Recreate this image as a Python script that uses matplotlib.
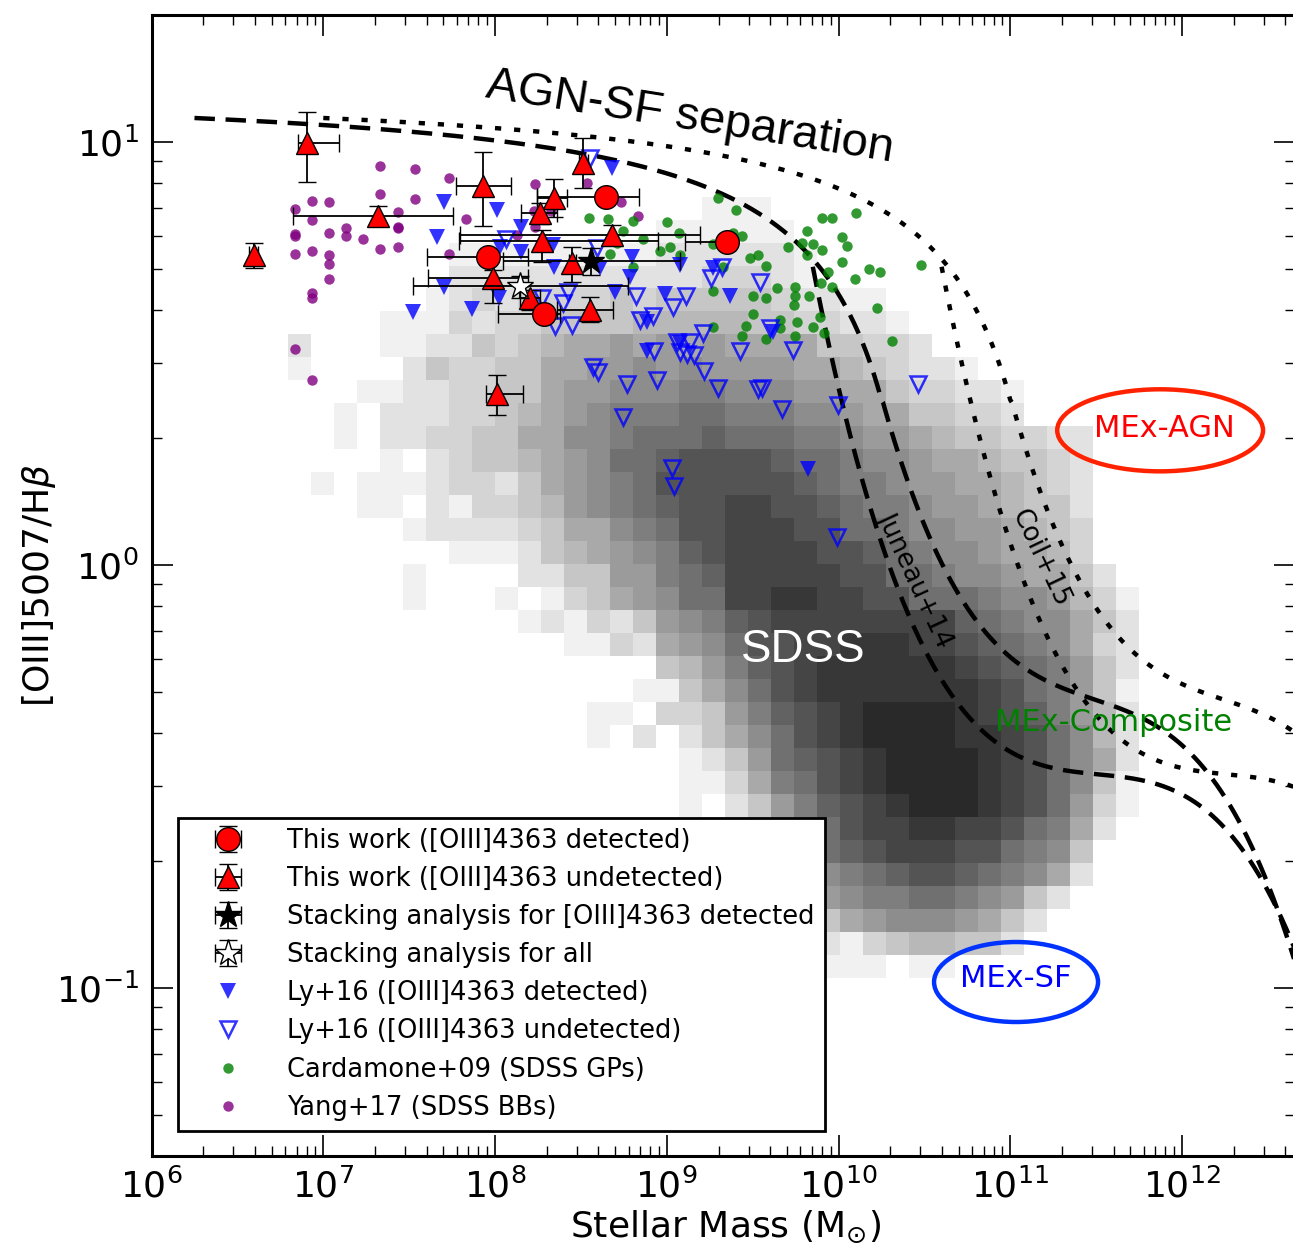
import numpy as np
import matplotlib
matplotlib.use('Agg')
import matplotlib.pyplot as plt
from matplotlib.patches import Ellipse
from matplotlib.colors import LinearSegmentedColormap
from matplotlib.ticker import FixedLocator, NullFormatter

plt.rcParams['font.family'] = ['DejaVu Sans']
plt.rcParams['mathtext.fontset'] = 'dejavusans'
plt.rcParams['axes.unicode_minus'] = False

# ---------------- data (log10 stellar mass, log10 [OIII]5007/Hbeta) ----------------
# This work, [OIII]4363 detected
det_logm = [8.648, 9.352, 7.961, 8.287]
det_logr = [0.870, 0.764, 0.728, 0.593]
det_logm_lo = [8.246, 9.108, 7.606, 8.019]
det_logm_hi = [8.840, 9.400, 8.194, 8.380]
det_logr_lo = [0.862, 0.756, 0.720, 0.585]
det_logr_hi = [0.878, 0.772, 0.736, 0.601]

# This work, [OIII]4363 undetected
und_logm = [6.908, 6.594, 7.321, 7.932, 8.514, 8.345, 8.264, 8.275, 8.683, 8.450, 7.990, 8.206, 8.555, 8.014]
und_logr = [0.998, 0.733, 0.825, 0.896, 0.950, 0.868, 0.832, 0.766, 0.780, 0.714, 0.678, 0.631, 0.603, 0.404]
und_logm_lo = [6.850, 6.570, 6.821, 7.775, 8.490, 8.246, 8.153, 7.792, 7.798, 8.430, 7.612, 8.147, 8.363, 7.950]
und_logm_hi = [7.094, 6.620, 7.758, 8.095, 8.540, 8.421, 8.363, 8.950, 9.195, 8.470, 8.194, 8.264, 8.689, 8.165]
und_logr_lo = [0.905, 0.702, 0.801, 0.801, 0.891, 0.823, 0.806, 0.716, 0.761, 0.669, 0.619, 0.603, 0.574, 0.355]
und_logr_hi = [1.071, 0.761, 0.849, 0.976, 1.009, 0.913, 0.856, 0.792, 0.804, 0.752, 0.697, 0.650, 0.634, 0.449]

# Stacking analyses
sdet_logm = [8.561]; sdet_logr = [0.719]
sdet_logm_lo = [8.048]; sdet_logm_hi = [9.079]
sdet_logr_lo = [0.686]; sdet_logr_hi = [0.749]
sall_logm = [8.147]; sall_logr = [0.660]
sall_logm_lo = [7.525]; sall_logm_hi = [8.776]
sall_logr_lo = [0.631]; sall_logr_hi = [0.683]

# Ly+16 detected / undetected
lyd_logm = [8.683, 7.702, 8.014, 7.664, 7.705, 7.525, 7.868, 8.025, 8.153, 8.031, 8.153, 8.339, 8.345,
            8.613, 8.799, 8.788, 8.700, 8.991, 9.079, 9.271, 9.370, 8.887, 8.887, 9.079, 9.620, 9.823]
lyd_logr = [0.939, 0.858, 0.839, 0.775, 0.657, 0.597, 0.605, 0.631, 0.800, 0.752, 0.740, 0.757, 0.704,
            0.703, 0.728, 0.681, 0.645, 0.641, 0.709, 0.702, 0.636, 0.574, 0.506, 0.525, 0.551, 0.227]
lyu_logm = [8.555, 8.066, 8.596, 8.427, 8.398, 8.351, 8.450, 8.823, 9.114, 9.038, 8.921, 8.846, 9.212,
            9.061, 9.137, 9.079, 9.119, 9.160, 9.428, 9.736, 9.259, 9.323, 9.544, 8.572, 8.601, 8.770,
            8.945, 9.218, 9.300, 9.533, 9.556, 9.672, 9.998, 8.747, 10.464, 9.992, 9.032, 9.044, 9.602,
            8.275, 8.927]
lyu_logr = [0.962, 0.770, 0.749, 0.645, 0.619, 0.565, 0.567, 0.636, 0.636, 0.610, 0.589, 0.579, 0.548,
            0.527, 0.527, 0.504, 0.499, 0.496, 0.506, 0.508, 0.678, 0.704, 0.669, 0.468, 0.456, 0.428,
            0.437, 0.459, 0.418, 0.416, 0.418, 0.369, 0.378, 0.350, 0.428, 0.066, 0.229, 0.187, 0.560,
            0.631, 0.506]

# Cardamone+09 Green Peas
gp_logm = [9.300, 9.405, 8.549, 8.660, 8.805, 8.747, 9.003, 9.073, 8.863, 8.962, 9.020, 9.079, 8.671,
           8.805, 9.439, 9.387, 9.707, 9.818, 9.789, 9.853, 9.905, 9.905, 9.963, 10.103, 10.021, 10.050,
           9.486, 9.533, 9.579, 9.818, 9.940, 10.021, 10.179, 10.243, 10.481, 10.097, 9.899, 9.963,
           9.271, 9.503, 9.579, 9.643, 9.748, 9.748, 9.829, 9.742, 10.225, 9.503, 9.661, 9.759, 9.893,
           9.463, 9.271, 9.853, 9.439, 9.579, 9.748, 10.312, 9.917, 9.329, 9.271, 8.712, 9.661]
gp_logr = [0.868, 0.839, 0.820, 0.818, 0.813, 0.790, 0.811, 0.785, 0.771, 0.742, 0.752, 0.733, 0.735,
           0.704, 0.778, 0.785, 0.752, 0.790, 0.761, 0.759, 0.745, 0.820, 0.820, 0.832, 0.775, 0.754,
           0.726, 0.733, 0.707, 0.733, 0.693, 0.716, 0.700, 0.693, 0.709, 0.676, 0.667, 0.657,
           0.648, 0.636, 0.631, 0.655, 0.657, 0.636, 0.636, 0.615, 0.608, 0.593, 0.579, 0.574, 0.586,
           0.565, 0.563, 0.563, 0.541, 0.534, 0.541, 0.530, 0.548, 0.704, 0.759, 0.761, 0.560]

# Yang+17 Blueberries
bb_logm = [7.333, 7.532, 7.731, 7.333, 7.532, 6.834, 6.933, 7.034, 7.433, 6.933, 7.133, 7.433, 7.433,
           6.834, 6.834, 7.034, 7.133, 7.234, 7.333, 7.433, 6.834, 6.933, 7.034, 7.034, 7.034, 6.933,
           6.933, 6.834, 6.933, 7.831, 7.734, 8.232, 8.228, 8.232, 8.325, 8.533, 8.731, 8.831, 8.128]
bb_logr = [0.944, 0.937, 0.916, 0.876, 0.865, 0.841, 0.861, 0.857, 0.834, 0.815, 0.797, 0.799, 0.796,
           0.778, 0.782, 0.785, 0.777, 0.771, 0.746, 0.752, 0.735, 0.743, 0.732, 0.712, 0.676, 0.642,
           0.632, 0.511, 0.438, 0.818, 0.735, 0.900, 0.838, 0.798, 0.838, 0.904, 0.857, 0.824, 0.780]

# SDSS 2D histogram: darkness level (hex 0-f) per cell, one entry per row (top to bottom),
# given as (first column, levels)
sdss_logm0 = 6.795
sdss_dlogm = 0.1339
sdss_logr_top = 0.8709
sdss_dlogr = 0.0543
sdss_ncol = 38
sdss_rows = [
    (18, "111"),
    (16, "1111 11"),
    (7, "1111 1111 1222 2221"),
    (7, "2222 2222 2223 3321"),
    (6, "1232 3333 4344 4443 2211"),
    (4, "1113 2334 4445 5555 4433 221"),
    (0, "2000 1122 4345 6676 7676 6664 4332"),
    (0, "1000 0243 3446 6778 7877 7766 5432 21"),
    (3, "1122 3344 6778 8899 8887 7664 3322 1"),
    (2, "1022 2334 5678 999a a999 8876 6443 32"),
    (2, "1022 3344 6688 9aaa baaa 9987 7654 4332 2"),
    (4, "1023 4456 78aa bccc cbaa 9887 6654 432"),
    (1, "1011 1233 2467 89ac cccc cba9 9877 6654 32"),
    (3, "1102 1334 5789 abcc ddcc ba99 8776 5442"),
    (5, "1222 2346 689a ccdd dcca a988 7765 43"),
    (7, "1112 4567 89bc dddd ccba 9887 6653"),
    (5, "1000 0224 4779 abdd dddc caa9 8876 642"),
    (5, "1000 1013 4678 aadd eedd ccaa a988 753 1"),
    (10, "1213 2478 9bcd dddd dddb a988 642"),
    (12, "1132 678a ccdd eeed dcba 9863 2"),
    (16, "4579 bcde eeee edcb a974 2"),
    (15, "1146 8acd eeee eeed ca97 41"),
    (13, "1103 3479 bcde ffff edcb 9752"),
    (13, "1020 2468 acde ffff eedc a852"),
    (17, "1247 abcd efff fedc a862"),
    (17, "1136 9acd efff fedc a841"),
    (17, "1024 79bc deff fedc a731"),
    (19, "2468 acdd eedd ca96 2"),
    (20, "246a bcdd dcca 984"),
    (21, "2489 abcc ba98 62"),
    (22, "2789 9aa9 8742"),
    (22, "1467 8887 642"),
    (23, "2134 5544 2"),
    (23, "1110 11"),
]

# MEx demarcation (Juneau+11 form), shifted in mass for Juneau+14 and Coil+15
mex_up_a, mex_up_b, mex_up_c = 0.375, 10.5, 1.14
mex_up_poly = [410.24, -109.333, 9.71731, -0.288244]
mex_lo_poly = [352.066, -93.8249, 8.32651, -0.246416]
juneau14_shift = 0.25
coil15_shift = 1.0

# ---------------- figure ----------------
fig = plt.figure(figsize=(12.93, 12.48), dpi=100)
ax = fig.add_axes([0.1172, 0.0737, 0.8844, 0.9143])
ax.set_xscale('log')
ax.set_yscale('log')

# SDSS histogram
grid = np.zeros((len(sdss_rows), sdss_ncol))
for r, (start, s) in enumerate(sdss_rows):
    s = s.replace(" ", "")
    for k, ch in enumerate(s):
        grid[r, start + k] = int(ch, 16)
xe = 10 ** (sdss_logm0 + sdss_dlogm * np.arange(sdss_ncol + 1))
ye = 10 ** (sdss_logr_top - sdss_dlogr * np.arange(len(sdss_rows) + 1))
cmap = LinearSegmentedColormap.from_list('sdss', ['white', (0.16, 0.16, 0.16)])
ax.pcolormesh(xe, ye, np.ma.masked_equal(grid, 0), cmap=cmap, vmin=0, vmax=15,
              edgecolors='none', antialiased=False, zorder=0)

# MEx curves
def mex_upper(x):
    x = np.asarray(x)
    hyp = mex_up_a / (x - mex_up_b) + mex_up_c
    pol = np.polyval(mex_up_poly[::-1], x)
    return np.where(x <= 10.0, hyp, pol)

def mex_lower(x):
    return np.polyval(mex_lo_poly[::-1], np.asarray(x))

xu = np.linspace(6.0, 12.7, 800)
xl = np.linspace(9.6, 12.7, 500)
for shift, style in [(juneau14_shift, dict(dashes=(4.6, 2.4))), (coil15_shift, dict(dashes=(1.4, 2.9)))]:
    ax.plot(10 ** (xu + shift), 10 ** mex_upper(xu), color='black', lw=3.2, zorder=2, **style)
    ax.plot(10 ** (xl + shift), 10 ** mex_lower(xl), color='black', lw=3.2, zorder=2, **style)

# comparison samples
ax.plot(10 ** np.array(bb_logm), 10 ** np.array(bb_logr), 'o', color='purple', alpha=0.8,
        ms=7.5, mew=0, zorder=3)
ax.plot(10 ** np.array(gp_logm), 10 ** np.array(gp_logr), 'o', color='green', alpha=0.8,
        ms=7.5, mew=0, zorder=3)
ax.plot(10 ** np.array(lyd_logm), 10 ** np.array(lyd_logr), 'v', color='blue', alpha=0.8,
        ms=11.5, mew=0, zorder=3)
ax.plot(10 ** np.array(lyu_logm), 10 ** np.array(lyu_logr), 'v', mfc='none', mec='blue', alpha=0.8,
        ms=11, mew=1.8, zorder=3)

def ebar(logm, logr, mlo, mhi, rlo, rhi, **kw):
    m = 10 ** np.array(logm); r = 10 ** np.array(logr)
    xerr = [m - 10 ** np.array(mlo), 10 ** np.array(mhi) - m]
    yerr = [r - 10 ** np.array(rlo), 10 ** np.array(rhi) - r]
    return ax.errorbar(m, r, xerr=xerr, yerr=yerr, ls='none', ecolor='black', elinewidth=1.3,
                       capsize=6.5, capthick=1.3, **kw)

eb_und = ebar(und_logm, und_logr, und_logm_lo, und_logm_hi, und_logr_lo, und_logr_hi,
              marker='^', ms=16, mfc='red', mec='black', mew=1, zorder=5)
eb_det = ebar(det_logm, det_logr, det_logm_lo, det_logm_hi, det_logr_lo, det_logr_hi,
              marker='o', ms=17, mfc='red', mec='black', mew=1, zorder=5)
eb_sdet = ebar(sdet_logm, sdet_logr, sdet_logm_lo, sdet_logm_hi, sdet_logr_lo, sdet_logr_hi,
               marker='*', ms=20, mfc='black', mec='black', mew=1, zorder=6)
eb_sall = ebar(sall_logm, sall_logr, sall_logm_lo, sall_logm_hi, sall_logr_lo, sall_logr_hi,
               marker='*', ms=20, mfc='white', mec='black', mew=1, zorder=6)

# legend proxies matching the plotted samples
h_lyd = plt.Line2D([], [], ls='none', marker='v', color='blue', alpha=0.8, ms=11.5, mew=0)
h_lyu = plt.Line2D([], [], ls='none', marker='v', mfc='none', mec='blue', alpha=0.8, ms=11, mew=1.8)
h_gp = plt.Line2D([], [], ls='none', marker='o', color='green', alpha=0.8, ms=7.5, mew=0)
h_bb = plt.Line2D([], [], ls='none', marker='o', color='purple', alpha=0.8, ms=7.5, mew=0)

labels = ['This work ([OIII]4363 detected)', 'This work ([OIII]4363 undetected)',
          'Stacking analysis for [OIII]4363 detected', 'Stacking analysis for all',
          'Ly+16 ([OIII]4363 detected)', 'Ly+16 ([OIII]4363 undetected)',
          'Cardamone+09 (SDSS GPs)', 'Yang+17 (SDSS BBs)']
leg = ax.legend([eb_det, eb_und, eb_sdet, eb_sall, h_lyd, h_lyu, h_gp, h_bb], labels,
                loc='lower left', bbox_to_anchor=(0.023, 0.022), borderaxespad=0,
                fontsize=18.5, handlelength=3.1, handletextpad=0.75, labelspacing=0.47,
                borderpad=0.4, numpoints=1, frameon=True, fancybox=False, framealpha=1,
                edgecolor='black')
leg.get_frame().set_linewidth(2)
leg.set_zorder(10)

# annotations
ax.text(0.471, 0.910, 'AGN-SF separation', transform=ax.transAxes, fontsize=34,
        family=['Liberation Sans', 'DejaVu Sans'], rotation=-9, ha='center', va='center',
        rotation_mode='anchor', zorder=7)
ax.text(0.570, 0.4435, 'SDSS', transform=ax.transAxes, fontsize=33, color='white',
        family=['Liberation Sans', 'DejaVu Sans'], ha='center', va='center', zorder=7)
ax.text(0.668, 0.505, 'Juneau+14', transform=ax.transAxes, fontsize=19, rotation=-65,
        ha='center', va='center', rotation_mode='anchor', zorder=7)
ax.text(0.777, 0.524, 'Coil+15', transform=ax.transAxes, fontsize=19, rotation=-64.5,
        ha='center', va='center', rotation_mode='anchor', zorder=7)
ax.text(0.8855, 0.638, 'MEx-AGN', transform=ax.transAxes, fontsize=22, color='red',
        ha='center', va='center', zorder=7)
ax.add_patch(Ellipse((0.882, 0.636), 0.180, 0.0719, transform=ax.transAxes, fill=False,
                     edgecolor='#ff2200', lw=3.2, zorder=7))
ax.text(0.756, 0.156, 'MEx-SF', transform=ax.transAxes, fontsize=22, color='blue',
        ha='center', va='center', zorder=7)
ax.add_patch(Ellipse((0.756, 0.1525), 0.1434, 0.0701, transform=ax.transAxes, fill=False,
                     edgecolor='#0033ff', lw=3.2, zorder=7))
ax.text(0.8417, 0.380, 'MEx-Composite', transform=ax.transAxes, fontsize=22, color='green',
        ha='center', va='center', zorder=7)

# axes cosmetics
xmin, xmax = 1e6, 10 ** 12.658
ymin, ymax = 0.0401, 19.96
ax.set_xlim(xmin, xmax)
ax.set_ylim(ymin, ymax)
xmaj = [10.0 ** k for k in range(6, 13)]
ymaj = [10.0 ** k for k in range(-1, 2)]
xmin_t = [m * 10.0 ** k for k in range(6, 13) for m in range(2, 10) if m * 10.0 ** k < xmax]
ymin_t = [m * 10.0 ** k for k in range(-2, 2) for m in range(2, 10) if ymin < m * 10.0 ** k < ymax]
ax.xaxis.set_major_locator(FixedLocator(xmaj))
ax.xaxis.set_minor_locator(FixedLocator(xmin_t))
ax.yaxis.set_major_locator(FixedLocator(ymaj))
ax.yaxis.set_minor_locator(FixedLocator(ymin_t))
ax.xaxis.set_minor_formatter(NullFormatter())
ax.yaxis.set_minor_formatter(NullFormatter())
ax.tick_params(which='both', direction='in', top=True, right=True, labelsize=26)
ax.tick_params(which='major', length=15, width=1.2, pad=9)
ax.tick_params(which='minor', length=7.5, width=1.0)
for sp in ax.spines.values():
    sp.set_linewidth(2.2)

ax.set_xlabel(r'Stellar Mass (M$_{\odot}$)', fontsize=26)
ax.set_ylabel(r'[OIII]5007/H$\beta$', fontsize=26)
ax.xaxis.set_label_coords(0.502, -0.046)
ax.yaxis.set_label_coords(-0.082, 0.5)

fig.savefig('out.png', dpi=100)
